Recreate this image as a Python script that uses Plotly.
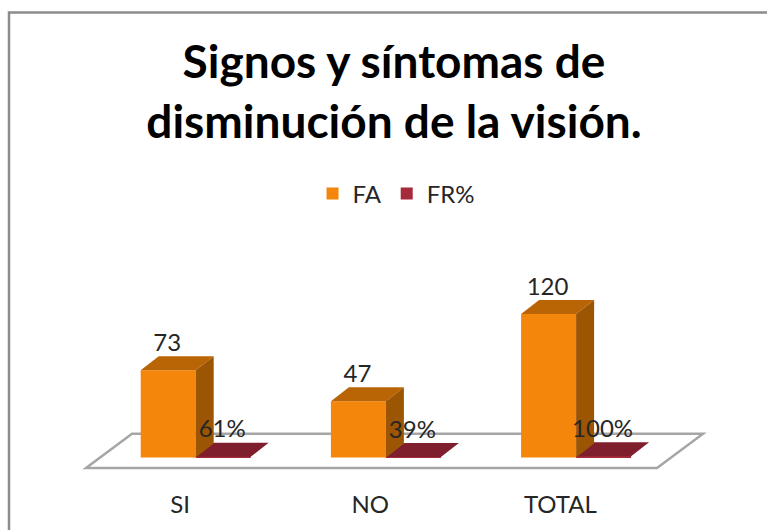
import plotly.graph_objects as go

# ---- data ----
categories = ["SI", "NO", "TOTAL"]
fa_values = [73, 47, 120]
fr_values = [0.61, 0.39, 1.00]
fr_labels = ["61%", "39%", "100%"]
fa_labels = ["73", "47", "120"]
title_text = "Signos y síntomas de<br>disminución de la visión."

# ---- drawing constants ----
W, H = 767, 530
px_x = 190.2           # pixels per category step
px_y = 1.195           # pixels per value unit
left0 = 195.7          # pixel of category 0 centre
base_px = 457.5        # pixel of value 0
plot_bottom = 480
bar_w = 55 / px_x
dx = 18 / px_x         # 3D depth
dy = 14 / px_y
FONT = "Lato, Carlito, Calibri, sans-serif"
TXT = "#262626"
ORANGE, ORANGE_TOP, ORANGE_SIDE = "#f4860b", "#b96505", "#9c5503"
RED, RED_TOP = "#a52a3a", "#7f1f2d"

xs = list(range(len(categories)))
fig = go.Figure()


def poly(px, py, color):
    fig.add_trace(go.Scatter(x=px, y=py, mode="lines", fill="toself", fillcolor=color,
                             line=dict(width=0), showlegend=False, hoverinfo="skip"))


# floor outline (a shape below the traces, so the bars hide it)
floor_front = -10.5 / px_y
floor_back = 23.8 / px_y
floor_l = (86 - left0) / px_x
floor_r = (657 - left0) / px_x
floor_dx = 46 / px_x
floor_path = (f"M {floor_l} {floor_front} L {floor_r} {floor_front} "
              f"L {floor_r + floor_dx} {floor_back} L {floor_l + floor_dx} {floor_back} Z")

# FR% depth faces first (behind), FA after
fr_lefts = [x for x in xs]
fa_lefts = [x - bar_w for x in xs]

for x0, v in zip(fr_lefts, fr_values):
    poly([x0, x0 + bar_w, x0 + bar_w + dx, x0 + dx, x0], [v, v, v + dy, v + dy, v], RED_TOP)

fig.add_trace(go.Bar(name="FR%", x=[x + bar_w / 2 for x in xs], y=fr_values, width=bar_w,
                     marker=dict(color=RED, line=dict(width=0))))
fig.add_trace(go.Bar(name="FA", x=[x - bar_w / 2 for x in xs], y=fa_values, width=bar_w,
                     marker=dict(color=ORANGE, line=dict(width=0))))

for x0, v in zip(fa_lefts, fa_values):
    poly([x0, x0 + bar_w, x0 + bar_w + dx, x0 + dx, x0], [v, v, v + dy, v + dy, v], ORANGE_TOP)
    r = x0 + bar_w
    poly([r, r + dx, r + dx, r, r], [0, dy, v + dy, v, 0], ORANGE_SIDE)

# data labels
lab_shift = 11.5 / px_y
lab_dx = 1 / px_x
fig.add_trace(go.Scatter(x=[x - bar_w / 2 - lab_dx for x in xs],
                         y=[v + dy + lab_shift for v in fa_values],
                         text=fa_labels, mode="text", textposition="middle center",
                         textfont=dict(family=FONT, size=24, color=TXT),
                         showlegend=False, hoverinfo="skip"))
fig.add_trace(go.Scatter(x=[x + bar_w / 2 - lab_dx for x in xs],
                         y=[v + dy + lab_shift for v in fr_values],
                         text=fr_labels, mode="text", textposition="middle center",
                         textfont=dict(family=FONT, size=24, color=TXT),
                         showlegend=False, hoverinfo="skip"))

fig.update_layout(
    width=W, height=H, autosize=False,
    margin=dict(l=0, r=0, t=0, b=H - plot_bottom),
    paper_bgcolor="white", plot_bgcolor="white",
    barmode="overlay",
    title=dict(text=title_text, x=0.5137, xanchor="center", y=0.852, yanchor="bottom",
               font=dict(family=FONT, size=46, color="#000000", weight="bold")),
    legend=dict(orientation="h", x=0.517, xanchor="center", y=0.596, yanchor="middle",
                traceorder="reversed", font=dict(family=FONT, size=24, color=TXT),
                bgcolor="rgba(0,0,0,0)", itemclick=False, itemdoubleclick=False),
    xaxis=dict(range=[-left0 / px_x, (W - left0) / px_x], showgrid=False, zeroline=False,
               showline=False, ticks="", tickmode="array",
               tickvals=[x - 15.7 / px_x for x in xs], ticktext=categories,
               ticklabelstandoff=8, tickfont=dict(family=FONT, size=24, color=TXT)),
    yaxis=dict(range=[-(plot_bottom - base_px) / px_y, base_px / px_y], visible=False),
    shapes=[dict(type="rect", xref="paper", yref="paper", layer="below",
                 x0=9 / W, x1=1.05, y0=-0.2, y1=(plot_bottom - 12.5) / plot_bottom,
                 line=dict(color="#8c8c8c", width=2.5), fillcolor="rgba(0,0,0,0)"),
            dict(type="path", xref="x", yref="y", layer="below", path=floor_path,
                 line=dict(color="#a6a6a6", width=2.5), fillcolor="rgba(0,0,0,0)")],
)

fig.write_html("out.html", config={"displayModeBar": False},
               post_script="document.body.style.margin='0';document.body.style.overflow='hidden';")
